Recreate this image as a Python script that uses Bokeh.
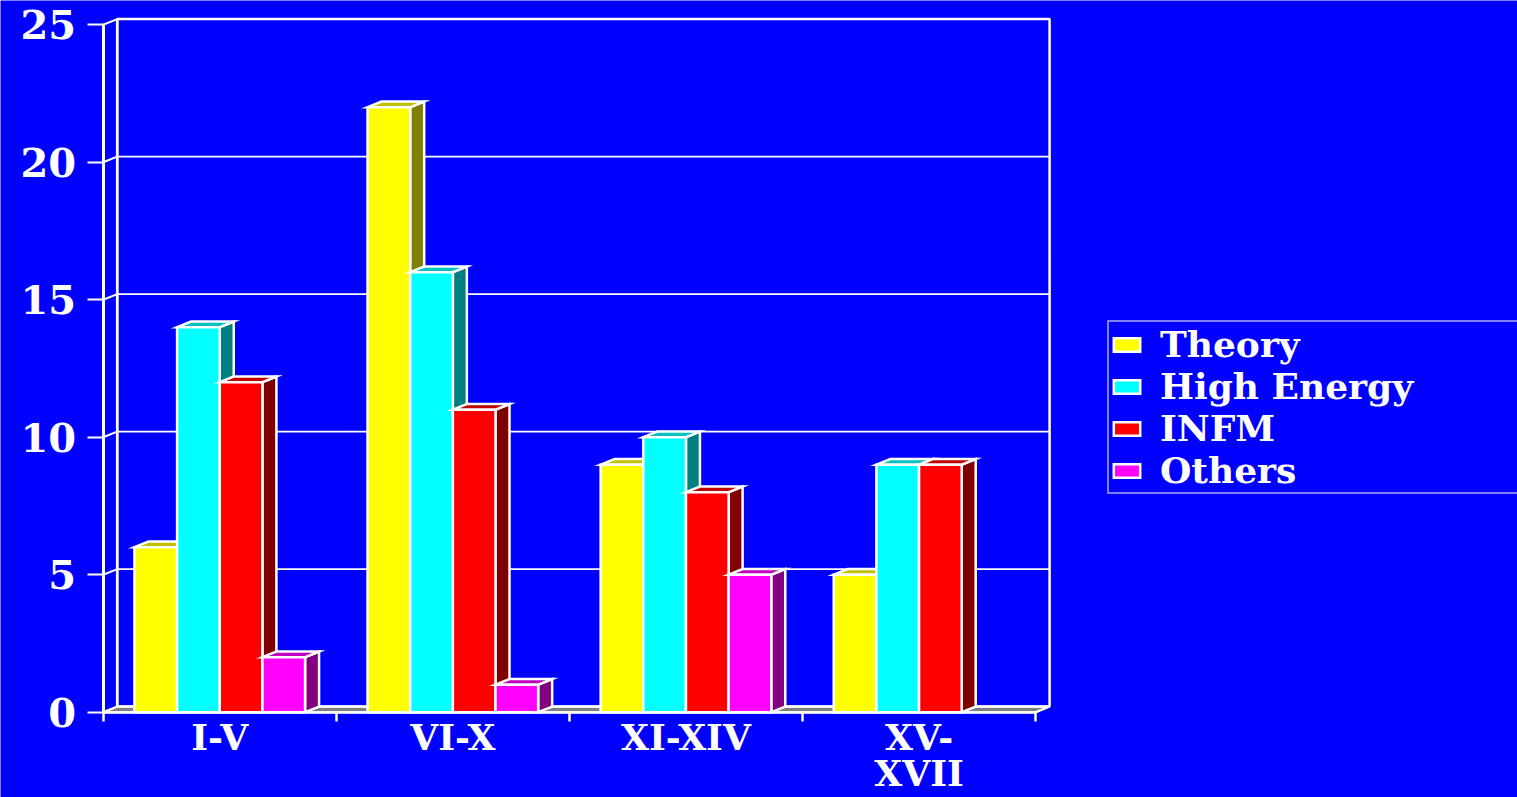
from bokeh.plotting import figure
from bokeh.models import (Range1d, LinearAxis, FixedTicker, Legend, LegendItem,
                          ColumnDataSource)
from bokeh.embed import file_html
from bokeh.resources import INLINE

# ---------------- data ----------------
categories = ["I-V", "VI-X", "XI-XIV", "XV-\nXVII"]
series_names = ["Theory", "High Energy", "INFM", "Others"]
theory = [6, 22, 9, 5]
high_energy = [14, 16, 10, 9]
infm = [12, 11, 8, 9]
others = [2, 1, 5, 0]
y_ticks = [0, 5, 10, 15, 20, 25]
y_tick_labels = ["0", "5", "10", "15", "20", "25"]

series_values = [theory, high_energy, infm, others]

# ---------------- style ----------------
BG = "#0000FF"
front_colors = ["#FFFF00", "#00FFFF", "#FF0000", "#FF00FF"]
top_colors = ["#C0C000", "#00C0C0", "#C00000", "#C000C0"]
side_colors = ["#808000", "#008080", "#800000", "#800080"]
FONT = "DejaVu Serif"

W, H = 1517, 797
X0_PX, Y0_PX = 102.7, 711.7          # where (0, 0) sits on the canvas
PX_PER_CAT, PX_PER_UNIT = 233.1, 27.5
DX = 14.0 / PX_PER_CAT               # depth offset, data units
DY = 5.6 / PX_PER_UNIT
BAR_W = 0.183
NCAT = len(categories)
YMAX = y_ticks[-1]

x_start = -X0_PX / PX_PER_CAT
x_end = (W - X0_PX) / PX_PER_CAT
y_end = Y0_PX / PX_PER_UNIT
y_start = -(H - Y0_PX) / PX_PER_UNIT

p = figure(width=W, height=H, x_range=Range1d(x_start, x_end),
           y_range=Range1d(y_start, y_end), x_axis_type=None, y_axis_type=None,
           min_border=0, toolbar_location=None, output_backend="svg")
p.background_fill_color = BG
p.border_fill_color = BG
p.outline_line_color = None
p.grid.visible = False

# ---------------- 3D box (floor, walls, grid) ----------------
p.patch([0, NCAT, NCAT + DX, DX], [0, 0, DY, DY], fill_color="#808080",
        line_color="white", line_width=2)
p.quad(left=[DX], right=[NCAT + DX], bottom=[DY], top=[YMAX + DY],
       fill_color=None, line_color="white", line_width=2.5)
grid_xs = [[DX, NCAT + DX] for v in y_ticks[1:-1]]
grid_ys = [[v + DY, v + DY] for v in y_ticks[1:-1]]
p.multi_line(grid_xs, grid_ys, line_color="white", line_width=1.6)
diag_xs = [[0, DX] for v in y_ticks]
diag_ys = [[v, v + DY] for v in y_ticks]
p.multi_line(diag_xs, diag_ys, line_color="white", line_width=2)
p.segment(x0=[DX], y0=[DY], x1=[DX], y1=[YMAX + DY], line_color="white", line_width=2.5)
p.segment(x0=[NCAT], y0=[0], x1=[NCAT + DX], y1=[DY], line_color="white", line_width=2)

# ---------------- 3D bars ----------------
legend_items = []
for j, (name, vals) in enumerate(zip(series_names, series_values)):
    xs_c, tops = [], []
    side_xs, side_ys, top_xs, top_ys = [], [], [], []
    for i, v in enumerate(vals):
        if v <= 0:
            continue
        left = i + 0.5 - 2 * BAR_W + j * BAR_W
        right = left + BAR_W
        xs_c.append(left + BAR_W / 2)
        tops.append(v)
        side_xs.append([right, right + DX, right + DX, right])
        side_ys.append([0, DY, v + DY, v])
        top_xs.append([left, right, right + DX, left + DX])
        top_ys.append([v, v, v + DY, v + DY])
    p.patches(side_xs, side_ys, fill_color=side_colors[j], line_color="white",
              line_width=2.5, line_join="miter")
    p.patches(top_xs, top_ys, fill_color=top_colors[j], line_color="white",
              line_width=2.5, line_join="miter")
    src = ColumnDataSource(dict(x=xs_c, top=tops))
    r = p.vbar(x="x", top="top", bottom=0, width=BAR_W, source=src,
               fill_color=front_colors[j], line_color="white", line_width=2.5,
               line_join="miter")
    legend_items.append(LegendItem(label=name, renderers=[r]))

# ---------------- axes ----------------
yaxis = LinearAxis(fixed_location=0, bounds=(0, YMAX),
                   ticker=FixedTicker(ticks=y_ticks, minor_ticks=[]),
                   major_label_overrides={t: s for t, s in zip(y_ticks, y_tick_labels)})
yaxis.axis_line_color = "white"
yaxis.axis_line_width = 3
yaxis.major_tick_line_color = "white"
yaxis.major_tick_line_width = 2
yaxis.major_tick_out = 16
yaxis.major_tick_in = 0
yaxis.minor_tick_line_color = None
yaxis.major_label_standoff = 11
yaxis.major_label_text_color = "white"
yaxis.major_label_text_font = FONT
yaxis.major_label_text_font_style = "bold"
yaxis.major_label_text_font_size = "40px"
p.add_layout(yaxis, "left")

cat_centers = [i + 0.5 for i in range(NCAT)]
cat_bounds = [float(i) for i in range(NCAT + 1)]
xaxis = LinearAxis(fixed_location=0, bounds=(0, NCAT),
                   ticker=FixedTicker(ticks=cat_centers, minor_ticks=cat_bounds),
                   major_label_overrides={c: s for c, s in zip(cat_centers, categories)})
xaxis.axis_line_color = "white"
xaxis.axis_line_width = 2.5
xaxis.major_tick_line_color = None
xaxis.major_tick_out = 0
xaxis.major_tick_in = 0
xaxis.minor_tick_line_color = "white"
xaxis.minor_tick_line_width = 2.5
xaxis.minor_tick_out = 9
xaxis.minor_tick_in = 0
xaxis.major_label_standoff = -5
xaxis.major_label_text_color = "white"
xaxis.major_label_text_font = FONT
xaxis.major_label_text_font_style = "bold"
xaxis.major_label_text_font_size = "36px"
xaxis.major_label_text_line_height = 0.85
p.add_layout(xaxis, "below")

# ---------------- legend ----------------
legend = Legend(items=legend_items, location=(1107, 797 - 494),
                border_line_color="white", border_line_width=2.5,
                background_fill_color=BG, background_fill_alpha=1.0,
                label_text_color="white", label_text_font=FONT,
                label_text_font_style="bold", label_text_font_size="36px",
                glyph_width=33, glyph_height=17, label_standoff=17,
                padding=1, spacing=0, label_height=38, label_width=420,
                margin=0)
p.add_layout(legend)

open("out.html", "w").write(file_html(p, INLINE))
